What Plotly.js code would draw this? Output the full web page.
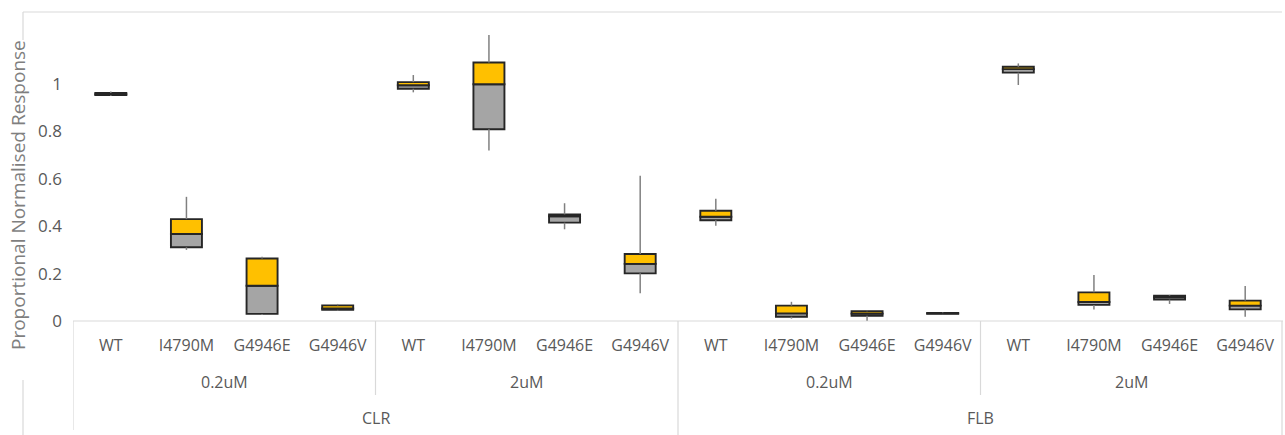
<!DOCTYPE html>
<html>
<head>
<meta charset="utf-8">
<script src="https://cdn.plot.ly/plotly-3.0.1.min.js"></script>
<style>html,body{margin:0;padding:0;background:#fff;}#chart{width:1285px;height:435px;}</style>
</head>
<body>
<div id="chart"></div>
<script>
// Category labels (three levels)
const mutants = ["WT","I4790M","G4946E","G4946V","WT","I4790M","G4946E","G4946V","WT","I4790M","G4946E","G4946V","WT","I4790M","G4946E","G4946V"];
const doses = ["0.2uM","2uM","0.2uM","2uM"];
const drugs = ["CLR","FLB"];

// Box-plot statistics per category
const minVals = [0.950,0.300,0.025,0.044, 0.965,0.719,0.387,0.117, 0.402,0.010,0.001,0.029, 0.996,0.049,0.072,0.018];
const q1Vals  = [0.953,0.311,0.030,0.047, 0.980,0.809,0.415,0.201, 0.425,0.018,0.022,0.030, 1.048,0.068,0.090,0.049];
const medVals = [0.957,0.367,0.149,0.053, 0.995,0.999,0.442,0.241, 0.440,0.032,0.031,0.032, 1.063,0.080,0.100,0.065];
const q3Vals  = [0.962,0.430,0.264,0.066, 1.008,1.091,0.450,0.283, 0.465,0.065,0.041,0.034, 1.073,0.121,0.107,0.086];
const maxVals = [0.968,0.524,0.271,0.072, 1.038,1.207,0.497,0.613, 0.516,0.081,0.043,0.036, 1.087,0.194,0.110,0.148];

const yTicks = [0,0.2,0.4,0.6,0.8,1];
const yTickText = ["0","0.2","0.4","0.6","0.8","1"];

const xs = mutants.map((_, i) => i);

// whiskers
const wx = [], wy = [];
xs.forEach(i => {
  wx.push(i, i, null, i, i, null);
  wy.push(q3Vals[i], maxVals[i], null, minVals[i], q1Vals[i], null);
});

const lineCol = '#262626';
const traces = [
  {type:'scatter', mode:'lines', x:wx, y:wy, line:{color:'#808080', width:1.5}, hoverinfo:'skip', showlegend:false, cliponaxis:false},
  {type:'bar', x:xs, base:q1Vals, y:xs.map(i=>medVals[i]-q1Vals[i]), width:0.41,
   marker:{color:'#A5A5A5', line:{color:lineCol, width:1.9}}, showlegend:false},
  {type:'bar', x:xs, base:medVals, y:xs.map(i=>q3Vals[i]-medVals[i]), width:0.41,
   marker:{color:'#FFC000', line:{color:lineCol, width:1.9}}, showlegend:false}
];

const plotW = 1285-73-2, plotH = 435-12-114;
function px2paperX(px){return (px-73)/plotW;}
function px2paperY(py){return (321-py)/plotH;}

const labFont = {family:'Open Sans, sans-serif', size:16, color:'#595959'};
const annotations = [];
doses.forEach((d, g) => {
  annotations.push({x:g*4+1.5, y:px2paperY(382), xref:'x', yref:'paper', yanchor:'middle', showarrow:false, text:d, font:labFont});
});
drugs.forEach((d, g) => {
  annotations.push({x:g*8+3.5, y:px2paperY(418), xref:'x', yref:'paper', yanchor:'middle', showarrow:false, text:d, font:labFont});
});
annotations.push({x:px2paperX(18), y:px2paperY(195), xref:'paper', yref:'paper', xanchor:'center', yanchor:'middle',
  showarrow:false, textangle:-90, text:'Proportional Normalised Response',
  font:{family:'Open Sans, sans-serif', size:19, color:'#7f7f7f'}});

const gc = '#d9d9d9';
function seg(x0,y0,x1,y1){ return {type:'line', xref:'paper', yref:'paper', x0:x0, y0:y0, x1:x1, y1:y1, line:{color:gc, width:1.2}, layer:'below'}; }
const shapes = [];
shapes.push(seg(0,0,1,0));
shapes.push(seg(px2paperX(23),1,px2paperX(1282),1));
shapes.push(seg(px2paperX(23),1,px2paperX(23),px2paperY(40)));
shapes.push(seg(px2paperX(23),px2paperY(380),px2paperX(23),px2paperY(440)));
shapes.push(seg(px2paperX(1282),0,px2paperX(1282),px2paperY(440)));
shapes.push({type:'line', xref:'x', yref:'paper', x0:-0.5, x1:-0.5, y0:0, y1:px2paperY(430), line:{color:gc,width:1.2}});
[3.5, 11.5].forEach(v => shapes.push({type:'line', xref:'x', yref:'paper', x0:v, x1:v, y0:0, y1:px2paperY(395), line:{color:gc,width:1.2}}));
shapes.push({type:'line', xref:'x', yref:'paper', x0:7.5, x1:7.5, y0:0, y1:px2paperY(440), line:{color:gc,width:1.2}});

const layout = {
  width:1285, height:435,
  margin:{l:73, r:2, t:12, b:114},
  paper_bgcolor:'#fff', plot_bgcolor:'#fff',
  barmode:'overlay',
  showlegend:false,
  xaxis:{range:[-0.5,15.5], tickvals:xs, ticktext:mutants, ticks:'', showgrid:false, zeroline:false,
         showline:false, tickfont:labFont, ticklabelstandoff:13, fixedrange:true},
  yaxis:{range:[0,1.304], tickvals:yTicks, ticktext:yTickText, showgrid:false, zeroline:false, showline:false,
         tickfont:{family:'Open Sans, sans-serif', size:17, color:'#595959'}, ticks:'', ticklabelstandoff:10},
  annotations: annotations,
  shapes: shapes
};

Plotly.newPlot('chart', traces, layout, {staticPlot:true, displayModeBar:false});
</script>
</body>
</html>
